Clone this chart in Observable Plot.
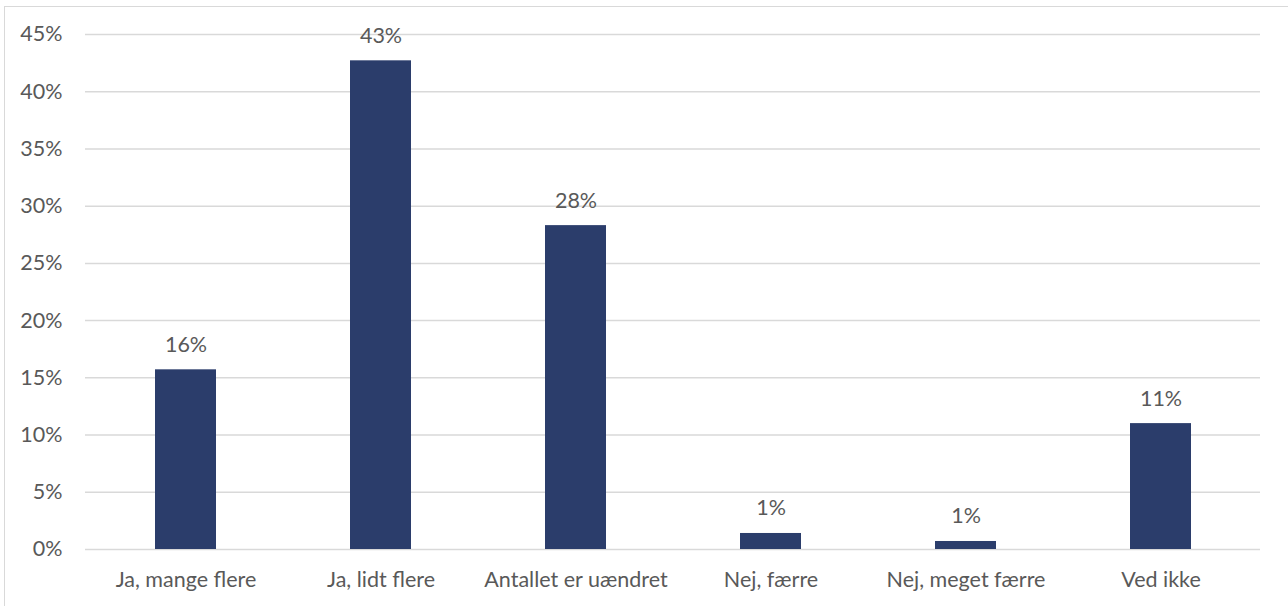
<!DOCTYPE html>
<html>
<head>
<meta charset="utf-8">
<script src="https://cdn.jsdelivr.net/npm/d3@7"></script>
<script src="https://cdn.jsdelivr.net/npm/@observablehq/plot@0.6"></script>
<style>
  html, body { margin: 0; padding: 0; background: #fff; overflow: hidden; }
  #wrap { position: relative; width: 1288px; height: 606px; }
  #frame { position: absolute; left: 4px; top: 6px; width: 1400px; height: 700px;
           border-left: 1.5px solid #d9d9d9; border-top: 1.5px solid #d9d9d9; box-sizing: border-box; }
  #chart { position: absolute; left: 0; top: 0; }
</style>
</head>
<body>
<div id="wrap">
  <div id="frame"></div>
  <div id="chart"></div>
</div>
<script>
const categories = ["Ja, mange flere", "Ja, lidt flere", "Antallet er uændret", "Nej, færre", "Nej, meget færre", "Ved ikke"];
const values = [0.157, 0.427, 0.283, 0.014, 0.007, 0.110];
const labels = ["16%", "43%", "28%", "1%", "1%", "11%"];
const yTicks = [0, 0.05, 0.10, 0.15, 0.20, 0.25, 0.30, 0.35, 0.40, 0.45];

const data = categories.map((c, i) => ({category: c, value: values[i], label: labels[i]}));

const FS = 21.5;
const chart = Plot.plot({
  width: 1288,
  height: 606,
  marginLeft: 85,
  marginRight: 28,
  marginTop: 34,
  marginBottom: 57,
  style: {fontFamily: "Lato, 'Liberation Sans', sans-serif", fontSize: FS + "px", color: "#595959", background: "transparent"},
  x: {domain: categories, paddingInner: 0.688, paddingOuter: 0.344, label: null},
  y: {domain: [0, 0.45], label: null},
  marks: [
    Plot.ruleY(yTicks, {stroke: "#d9d9d9", strokeWidth: 1.5}),
    Plot.axisY({ticks: yTicks, tickFormat: d => Math.round(d * 100) + "%", tickSize: 0, tickPadding: 23, fontSize: FS, fill: "#595959", label: null}),
    Plot.axisX({tickSize: 0, tickPadding: 22, fontSize: FS, fill: "#595959", label: null}),
    Plot.barY(data, {x: "category", y: "value", fill: "#2b3d6b"}),
    Plot.text(data, {x: "category", y: "value", text: "label", dy: -25, fill: "#595959", fontSize: FS})
  ]
});
document.getElementById("chart").appendChild(chart);
</script>
</body>
</html>
